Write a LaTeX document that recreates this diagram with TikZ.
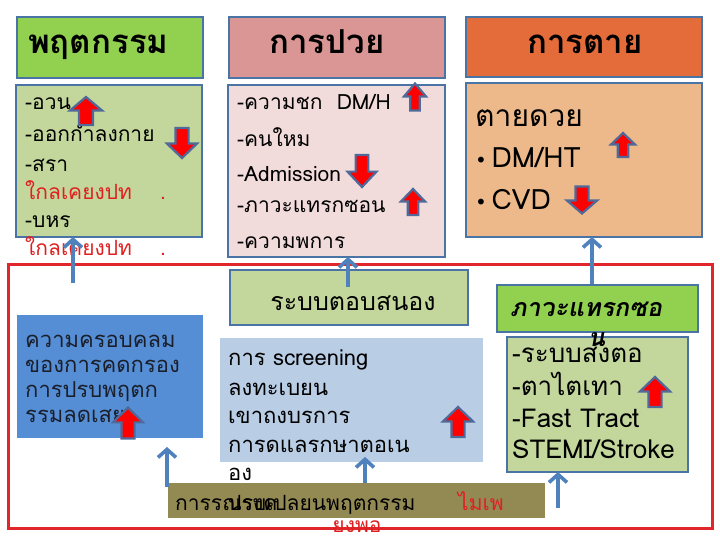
\documentclass[tikz,border=0pt]{standalone}
\usepackage{fontspec}
\usetikzlibrary{arrows.meta}
\newfontfamily\thai[Script=Thai]{Loma}
\newfontfamily\thaisl[Script=Thai,FakeSlant=0.18]{Loma}
\newfontfamily\dejavu{DejaVu Sans}
\definecolor{bblue}{HTML}{4A73A6}
\definecolor{cblue}{HTML}{4F81BD}
\definecolor{hgreen}{HTML}{92D050}
\definecolor{lgreen}{HTML}{C3D69B}
\definecolor{hpink}{HTML}{D99694}
\definecolor{lpink}{HTML}{F2DCDB}
\definecolor{horange}{HTML}{E46C3A}
\definecolor{lorange}{HTML}{EDB98A}
\definecolor{midblue}{HTML}{558ED5}
\definecolor{lblue}{HTML}{B9CDE5}
\definecolor{olive}{HTML}{938953}
\definecolor{framered}{HTML}{E0262A}
\definecolor{txtred}{HTML}{E02020}
\definecolor{darktxt}{HTML}{1A1F2B}
\definecolor{arrowedge}{HTML}{4F6A9A}
\newcommand\fatarrow[4]{\draw[fat,shift={(#1,#2)},xscale=#3,yscale=#4]
  (0,-0.5) -- (0.5,-0.02) -- (0.22,-0.02) -- (0.22,0.5) -- (-0.22,0.5) -- (-0.22,-0.02) -- (-0.5,-0.02) -- cycle;}
\begin{document}
\begin{tikzpicture}[x=1pt,y=-1pt,
  box/.style={draw=bblue,line width=2.4pt,inner sep=0pt,outer sep=0pt},
  plain/.style={inner sep=0pt,outer sep=0pt},
  fat/.style={fill=red,draw=arrowedge,line width=2.2pt,line join=miter},
  conn/.style={draw=cblue,line width=3.6pt,-{Straight Barb[length=8pt,width=18pt,line width=3.6pt]}},
  tx/.style={inner sep=0pt,anchor=base west,font=\thai\fontsize{21}{25}\selectfont},
  txc/.style={inner sep=0pt,anchor=base,font=\thai\fontsize{21}{25}\selectfont},
  hd/.style={inner sep=0pt,font=\thai\bfseries\fontsize{33}{36}\selectfont}]
\useasboundingbox (0,0) rectangle (720,540);
\fill[white] (0,0) rectangle (720,540);
% top row
\node[box,fill=hgreen,minimum width=186pt,minimum height=61pt] (h1) at (110,47.5) {};
\node[box,fill=lgreen,minimum width=186pt,minimum height=152pt] (b1) at (109,161) {};
\node[box,fill=hpink,minimum width=216pt,minimum height=61pt] (h2) at (337,47.5) {};
\node[box,fill=lpink,minimum width=217pt,minimum height=172pt] (b2) at (336.5,171) {};
\node[box,fill=horange,minimum width=236pt,minimum height=60pt] (h3) at (584,47) {};
\node[box,fill=lorange,minimum width=236pt,minimum height=154pt] (b3) at (584,160) {};
\node[hd,anchor=base west] (h1t) at (28,54) {พฤตกรรม};
\node[hd,anchor=base] (h2t) at (327,54) {การปวย};
\node[hd,anchor=base] (h3t) at (585,54) {การตาย};
% box 1 text
\node[tx] (l11) at (25,110) {-อวน};
\node[tx] (l12) at (25,142) {-ออกกำลงกาย};
\node[tx] (l13) at (25,172) {-สรา};
\node[tx,text=txtred] (l14) at (25,200) {ใกลเคยงปท};
\node[tx,text=txtred] (l14d) at (160,200) {.};
\node[tx] (l15) at (25,227) {-บหร};
\node[tx,text=txtred] (l16) at (25,255) {ใกลเคยงปท};
\node[tx,text=txtred] (l16d) at (160,255) {.};
% box 2 text
\node[tx] (l21) at (237,110) {-ความชก\ \ DM/H};
\node[tx] (l22) at (237,147) {-คนใหม};
\node[tx] (l23) at (237,182) {-Admission};
\node[tx] (l24) at (237,213) {-ภาวะแทรกซอน};
\node[tx] (l25) at (237,248) {-ความพการ};
% box 3 text
\node[tx,font=\thai\fontsize{30}{32}\selectfont] (l31) at (475,127) {ตายดวย};
\node[tx,font=\thai\fontsize{28}{32}\selectfont] (l32) at (475,168) {{\dejavu\fontsize{20}{20}\selectfont •}\,DM/HT};
\node[tx,font=\thai\fontsize{28}{32}\selectfont] (l33) at (475,210) {{\dejavu\fontsize{20}{20}\selectfont •}\,CVD};
% red frame
\node[draw=framered,line width=3pt,minimum width=704pt,minimum height=264pt,plain] (frame) at (360,396) {};
% connectors from frame
\coordinate (c1) at (73,283);
\coordinate (c3) at (592,285);
\draw[conn] (c1) -- (c1 |- b1.south);
\draw[conn] (c3) -- (c3 |- b3.south);
% lower boxes
\node[box,fill=lgreen,minimum width=238pt,minimum height=55pt] (r1) at (349,297.5) {};
\node[txc,font=\thai\fontsize{25}{28}\selectfont] (r1t) at (353,310) {ระบบตอบสนอง};
\coordinate (c2) at (348,287);
\draw[conn] (c2) -- (c2 |- b2.south);
\node[box,fill=hgreen,minimum width=201pt,minimum height=47pt] (h4) at (597.5,308.5) {};
\node[box,fill=lgreen,minimum width=181pt,minimum height=135pt] (b4) at (597.5,404.5) {};
\node[tx,font=\thaisl\bfseries\fontsize{25}{28}\selectfont] (h4t) at (510,316) {ภาวะแทรกซอ};
\node[tx,font=\thaisl\bfseries\fontsize{25}{28}\selectfont] (h4n) at (588,346) {น};
\node[tx,font=\thai\fontsize{26}{28}\selectfont] (l41) at (512,362) {-ระบบสงตอ};
\node[tx,font=\thai\fontsize{26}{28}\selectfont] (l42) at (512,395) {-ตาไตเทา};
\node[tx,font=\thai\fontsize{26}{28}\selectfont] (l43) at (512,427) {-Fast Tract};
\node[tx,font=\thai\fontsize{26}{28}\selectfont] (l44) at (512,458) {STEMI/Stroke};
\node[plain,fill=midblue,minimum width=186pt,minimum height=123pt] (bb) at (110,376.5) {};
\node[tx,text=darktxt,font=\thai\fontsize{22}{25}\selectfont] (l51) at (25,347) {ความครอบคลม};
\node[tx,text=darktxt,font=\thai\fontsize{22}{25}\selectfont] (l52) at (25,372) {ของการคดกรอง};
\node[tx,text=darktxt,font=\thai\fontsize{22}{25}\selectfont] (l53) at (25,397) {การปรบพฤตก};
\node[tx,text=darktxt,font=\thai\fontsize{22}{25}\selectfont] (l54) at (25,422) {รรมลดเสย};
\node[plain,fill=lblue,minimum width=263pt,minimum height=124pt] (lb) at (351.5,400) {};
\node[tx,font=\thai\fontsize{22}{25}\selectfont] (l61) at (228,365) {การ screening};
\node[tx,font=\thai\fontsize{22}{25}\selectfont] (l62) at (228,395) {ลงทะเบยน};
\node[tx,font=\thai\fontsize{22}{25}\selectfont] (l63) at (228,423) {เขาถงบรการ};
\node[tx,font=\thai\fontsize{22}{25}\selectfont] (l64) at (228,452) {การดแลรกษาตอเน};
\node[tx,font=\thai\fontsize{22}{25}\selectfont] (l65) at (228,480) {อง};
\node[plain,fill=olive,minimum width=377pt,minimum height=35pt] (ob) at (356.5,500.5) {};
\node[tx] (o1) at (175,510) {การรณรงค};
\node[tx] (o2) at (228,510) {ปรบเปลยนพฤตกรรม};
\node[tx,text=txtred] (o3) at (458,510) {ไมเพ};
\node[txc,text=txtred] (o4) at (357,532) {ยงพอ};
% lower connectors
\coordinate (c4) at (167,487);
\coordinate (c4t) at (167,447);
\coordinate (c5) at (365,483);
\coordinate (c5t) at (365,457);
\coordinate (c6) at (558,508);
\draw[conn] (c4) -- (c4t);
\draw[conn] (c5) -- (c5t);
\draw[conn] (c6) -- (c6 |- b4.south);
% red fat arrows
\fatarrow{86}{111}{32}{28}
\fatarrow{182}{143}{30}{-30}
\fatarrow{415}{97}{22}{27}
\fatarrow{362}{171}{29}{-32}
\fatarrow{413}{202}{24}{26}
\fatarrow{623}{145}{24}{24}
\fatarrow{582}{200}{30}{-27}
\fatarrow{128}{423}{30}{31}
\fatarrow{458}{422}{30}{30}
\fatarrow{655}{392}{30}{30}
\end{tikzpicture}
\end{document}
